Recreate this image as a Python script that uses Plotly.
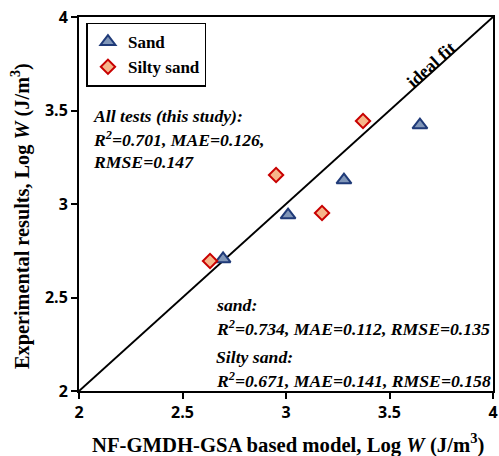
import plotly.graph_objects as go

sand_x = [3.647, 3.280, 3.010, 2.696]
sand_y = [3.422, 3.128, 2.941, 2.706]
silty_x = [3.372, 2.952, 3.174, 2.633]
silty_y = [3.444, 3.155, 2.952, 2.695]
fit_x = [2, 4]
fit_y = [2, 4]
tick_vals = [2, 2.5, 3, 3.5, 4]
tick_text = ["2", "2.5", "3", "3.5", "4"]

serif = "Liberation Serif"
fig = go.Figure()
fig.add_trace(go.Scatter(x=fit_x, y=fit_y, mode="lines", line=dict(color="black", width=2),
                         showlegend=False, hoverinfo="skip"))
fig.add_trace(go.Scatter(x=sand_x, y=sand_y, mode="markers", name="<b>Sand</b>",
                         marker=dict(symbol="triangle-up", size=13, color="#8096B8",
                                     line=dict(color="#1F3A78", width=2))))
fig.add_trace(go.Scatter(x=silty_x, y=silty_y, mode="markers", name="<b>Silty sand</b>",
                         marker=dict(symbol="diamond", size=11, color="#F6B58A",
                                     line=dict(color="#C80000", width=2))))

def px2x(p):
    return 2 + (p - 79) / 207.0

def px2y(p):
    return 2 + (391 - p) / 187.0

lines = [
    ("All tests (this study):", 91, 116),
    ("R<sup>2</sup>=0.701, MAE=0.126,", 91, 139),
    ("RMSE=0.147", 91, 162),
    ("sand:", 214, 305),
    ("R<sup>2</sup>=0.734, MAE=0.112, RMSE=0.135", 214, 328),
    ("Silty sand:", 214, 357),
    ("R<sup>2</sup>=0.671, MAE=0.141, RMSE=0.158", 214, 380),
]
for t, px, py in lines:
    fig.add_annotation(x=px2x(px), y=px2y(py), text="<b><i>" + t + "</i></b>", showarrow=False,
                       xanchor="left", yanchor="middle",
                       font=dict(family=serif, size=17.7, color="black"))

fig.add_annotation(x=px2x(431), y=px2y(65), text="<b>ideal fit</b>", showarrow=False,
                   textangle=-42, font=dict(family=serif, size=18, color="black"))

# axis titles as annotations (positions as in reference)
fig.add_annotation(xref="paper", yref="paper", x=(20 - 79) / 414.0, y=(391 - 216) / 374.0,
                   text="<b>Experimental results, Log <i>W</i> (J/m<sup>3</sup>)</b>",
                   textangle=-90, showarrow=False, xanchor="center", yanchor="middle",
                   font=dict(family=serif, size=20.3, color="black"))
fig.add_annotation(xref="paper", yref="paper", x=(288 - 79) / 414.0, y=(391 - 444) / 374.0,
                   text="<b>NF-GMDH-GSA based model, Log <i>W</i> (J/m<sup>3</sup>)</b>",
                   showarrow=False, xanchor="center", yanchor="middle",
                   font=dict(family=serif, size=20.7, color="black"))

axis_common = dict(range=[2, 4], tickvals=tick_vals, ticktext=["<b>" + t + "</b>" for t in tick_text],
                   showgrid=False, zeroline=False, showline=True, linecolor="black",
                   linewidth=2, mirror=True, ticks="outside", ticklen=6, tickwidth=1.5,
                   tickcolor="black", automargin=False,
                   tickfont=dict(family="Open Sans", size=16, color="black"))
fig.update_xaxes(**axis_common)
fig.update_yaxes(**axis_common)

fig.update_layout(
    width=499, height=456,
    margin=dict(l=79, r=6, t=17, b=65),
    plot_bgcolor="white", paper_bgcolor="white",
    legend=dict(x=0.018, y=0.985, xref="paper", yref="paper", xanchor="left", yanchor="top",
                bordercolor="black", borderwidth=1.5, bgcolor="white",
                font=dict(family=serif, size=17, color="black"),
                itemwidth=30, tracegroupgap=0),
    showlegend=True,
)

fig.write_html("out.html")
